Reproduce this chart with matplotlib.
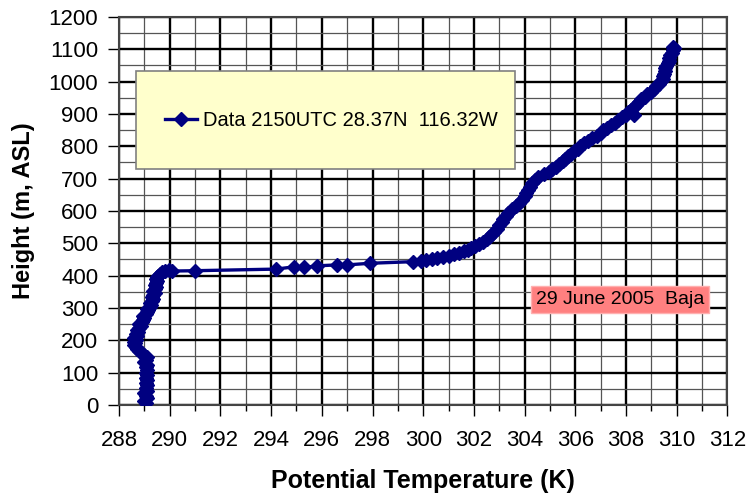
import matplotlib
matplotlib.use("Agg")
import matplotlib.pyplot as plt
from matplotlib.patches import Rectangle
from matplotlib.ticker import MultipleLocator

plt.rcParams["font.family"] = ["Liberation Sans", "DejaVu Sans"]

# sounding profile: height (m ASL) and potential temperature (K)
height = [
    5, 12, 20, 28, 36, 44, 52, 60, 68, 76, 84, 92, 100, 108, 116, 124, 132, 140,
    148, 155, 160, 166, 172, 178, 184, 190, 196, 202, 208, 214, 220, 226, 232,
    238, 244, 250, 256, 262, 268, 274, 280, 286, 292, 298, 304, 310, 316, 322,
    328, 334, 340, 346, 352, 358, 364, 370, 376, 382, 388, 394, 400, 406, 410,
    414, 416, 414, 415, 420, 427, 425, 430, 433, 433, 438, 443, 446, 449, 452,
    455, 458, 462, 466, 470, 475, 480, 486, 492, 498, 505, 512, 520, 528, 536,
    545, 555, 565, 575, 585, 595, 605, 615, 625, 635, 645, 655, 665, 675, 685,
    695, 705, 713, 721, 729, 737, 745, 753, 761, 769, 777, 785, 793, 801, 809,
    817, 825, 833, 841, 849, 857, 865, 873, 881, 889, 897, 897, 905, 913, 921,
    929, 937, 945, 953, 961, 969, 977, 985, 993, 1001, 1009, 1017, 1025, 1033,
    1041, 1049, 1057, 1065, 1073, 1081, 1089, 1097, 1105, 1108,
]
theta = [
    289.05, 289.0, 289.1, 289.05, 289.0, 289.1, 289.05, 289.1, 289.05, 289.1,
    289.05, 289.1, 289.05, 289.1, 289.05, 289.1, 289.0, 289.05, 289.1, 289.0,
    288.9, 288.8, 288.7, 288.65, 288.6, 288.62, 288.6, 288.65, 288.6, 288.7,
    288.65, 288.75, 288.7, 288.8, 288.85, 288.8, 288.9, 288.95, 289.0, 288.95,
    289.05, 289.1, 289.15, 289.1, 289.2, 289.25, 289.2, 289.3, 289.35, 289.3,
    289.35, 289.4, 289.35, 289.4, 289.45, 289.4, 289.45, 289.5, 289.45, 289.5,
    289.55, 289.6, 289.7, 289.8, 289.95, 290.1, 291.0, 294.2, 294.9, 295.3,
    295.8, 296.6, 297.0, 297.9, 299.6, 299.9, 300.1, 300.35, 300.55, 300.8,
    301.0, 301.2, 301.4, 301.6, 301.75, 301.9, 302.05, 302.2, 302.35, 302.5,
    302.6, 302.7, 302.8, 302.9, 303.0, 303.1, 303.15, 303.25, 303.35, 303.5,
    303.65, 303.8, 303.9, 304.0, 304.05, 304.15, 304.2, 304.3, 304.4, 304.55,
    304.75, 304.95, 305.1, 305.25, 305.35, 305.5, 305.6, 305.7, 305.85, 305.95,
    306.1, 306.2, 306.35, 306.5, 306.65, 306.85, 307.0, 307.1, 307.25, 307.4,
    307.55, 307.7, 307.85, 308.0, 308.3, 308.1, 308.2, 308.3, 308.4, 308.5,
    308.6, 308.75, 308.85, 309.0, 309.1, 309.2, 309.3, 309.4, 309.45, 309.45,
    309.5, 309.55, 309.55, 309.6, 309.65, 309.7, 309.7, 309.75, 309.8, 309.85,
    309.9, 309.85,
]

series_label = "Data 2150UTC 28.37N  116.32W"
note_text = "29 June 2005  Baja"

fig = plt.figure(figsize=(7.49, 4.98), dpi=100)
ax = fig.add_axes([0.159, 0.187, 0.812, 0.779])

line, = ax.plot(theta, height, color="#000080", lw=2.4, marker="D", ms=7,
                mec="#000080", mfc="#000080", label=series_label, zorder=5)

ax.set_xlim(288, 312)
ax.set_ylim(0, 1200)
ax.xaxis.set_major_locator(MultipleLocator(2))
ax.xaxis.set_minor_locator(MultipleLocator(1))
ax.yaxis.set_major_locator(MultipleLocator(100))
ax.yaxis.set_minor_locator(MultipleLocator(50))

ax.grid(which="major", color="black", lw=1.7, zorder=0)
ax.grid(which="minor", color="#555555", lw=0.9, zorder=0)
ax.set_axisbelow(True)

ax.tick_params(which="major", length=8, width=1, labelsize=16, pad=7)
ax.tick_params(axis="x", which="major", pad=10)
ax.tick_params(axis="x", which="minor", length=4, width=1)
ax.tick_params(axis="y", which="minor", length=0)
for s in ax.spines.values():
    s.set_color("#444444")
    s.set_linewidth(1.5)

ax.set_xlabel("Potential Temperature (K)", fontsize=18, fontweight="bold", labelpad=13)
ax.set_ylabel("Height (m, ASL)", fontsize=17, fontweight="bold", labelpad=10)

# legend panel
ax.add_patch(Rectangle((0.028, 0.608), 0.623, 0.253, transform=ax.transAxes,
                       facecolor="#FFFFCC", edgecolor="#808080", lw=1.2, zorder=6))
leg = ax.legend(handles=[line], loc="center left", bbox_to_anchor=(0.045, 0.734),
                frameon=False, fontsize=14.5, handlelength=1.6, handletextpad=0.3)
leg.set_zorder(7)

ax.text(0.824, 0.271, note_text, transform=ax.transAxes, ha="center", va="center",
        fontsize=14, zorder=7,
        bbox=dict(boxstyle="square,pad=0.25", facecolor="#FF8080", edgecolor="#FFB0B0"))

fig.savefig("out.png", dpi=100)
